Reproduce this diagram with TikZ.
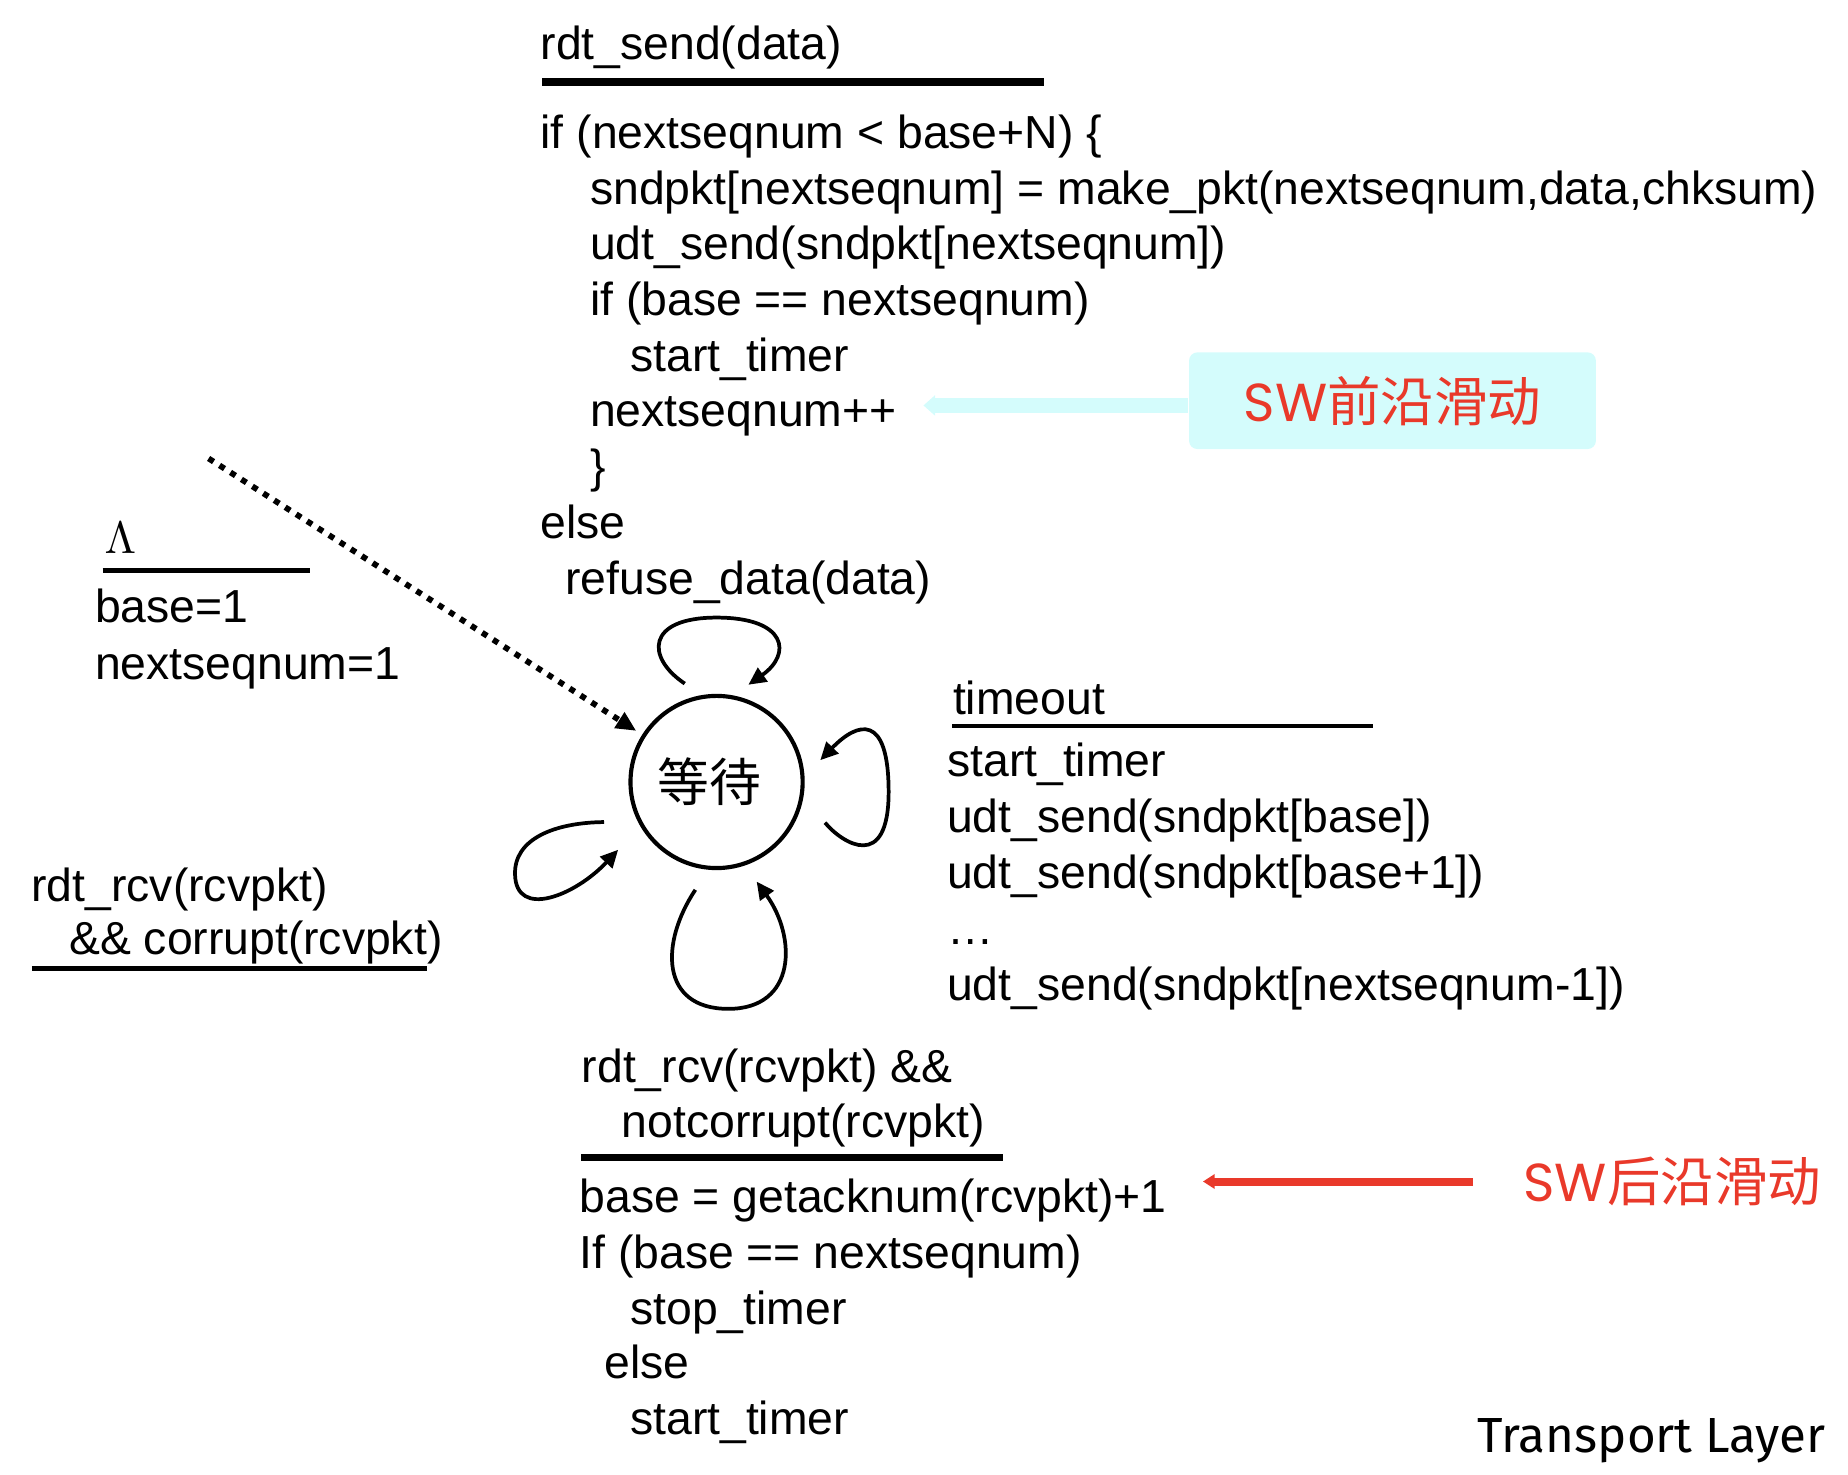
\documentclass[tikz,border=0pt]{standalone}
\usepackage{fontspec}
\setmainfont{Liberation Sans}
\newfontfamily\cjkfont{Noto Sans CJK SC}
\newfontfamily\swfont{Poppins}
\newfontfamily\footfont{Fira Sans}
\usetikzlibrary{arrows.meta,calc}

\definecolor{swred}{RGB}{233,57,42}
\definecolor{swcyan}{RGB}{212,252,252}

\begin{document}
\begin{tikzpicture}[x=0.01cm,y=-0.01cm,
  code/.style={anchor=base west, inner sep=0pt, yshift=-0.015cm,
    font=\fontsize{11.18pt}{13.4pt}\selectfont},
  thickbar/.style={line width=1.85pt},
  thinbar/.style={line width=1.2pt},
  state/.style={circle, draw, line width=1pt, minimum size=1.46cm, inner sep=0pt,
    font=\fontsize{12.5pt}{14pt}\cjkfont},
  selfloop/.style={line width=0.9pt, -{Triangle[length=0.15cm,width=0.14cm]}},
  initarrow/.style={line width=1.4pt, dash pattern=on 0.05cm off 0.06cm,
    -{Triangle[length=0.17cm,width=0.15cm]}, shorten >=0.06cm},
  swlabel/.style={inner sep=0pt, text=swred, font=\fontsize{12.9pt}{14pt}\selectfont},
  frontarrow/.style={swcyan, line width=3.6pt, -{Triangle[length=0.1cm,width=0.17cm]}},
  backarrow/.style={swred, line width=1.93pt, -{Triangle[length=0.1cm,width=0.12cm]}}]

\useasboundingbox (0,0) rectangle (1568,1251);

% ---- event/action for rdt_send ----
\node[code] (t0) at (458,49) {rdt\_send(data)};
\draw[thickbar] (460,69.5) -- (886,69.5);
\node[code] (t1) at (458,124.5) {if (nextseqnum < base+N) \{};
\node[code] (t2) at (500,171.75) {sndpkt[nextseqnum] = make\_pkt(nextseqnum,data,chksum)};
\node[code] (t3) at (500,219) {udt\_send(sndpkt[nextseqnum])};
\node[code] (t4) at (500,266.25) {if (base == nextseqnum)};
\node[code] (t5) at (534,313.5) {start\_timer};
\node[code] (t6) at (500,360.75) {nextseqnum++};
\node[code] (t7) at (500,408) {\}};
\node[code] (t8) at (458,455.25) {else};
\node[code] (t9) at (479,502.5) {refuse\_data(data)};

% ---- front edge of the sending window ----
\node[swlabel, fill=swcyan, rounded corners=2pt, minimum width=3.45cm, minimum height=0.82cm]
  (swfront) at (1181.5,340) {{\swfont SW}{\cjkfont 前沿滑动}};
\coordinate (frontsrc) at ([yshift=-0.04cm]swfront.west);
\draw[frontarrow, shorten >=0.22cm] (frontsrc) -- (t6.east |- frontsrc);

% ---- initial transition ----
\node[code] (lam) at (88,468) {$\Lambda$};
\draw[thinbar] (87,484) -- (263,484);
\node[code] (b1) at (80,527) {base=1};
\node[code] (b2) at (80,575) {nextseqnum=1};

% ---- the single state ----
\node[state] (wait) at (608,663.5) {\hspace*{-0.12cm}等待};
\coordinate (init) at (177,389);
\draw[initarrow] (init) -- (wait);

% ---- self loops ----
\begin{scope}[shift={(wait.center)}]
  % rdt_send
  \draw[selfloop] (-27,-83.5) .. controls (-60,-105.5) and (-60,-139.5) .. (0,-139.5)
    .. controls (60,-139.5) and (64,-108.5) .. (27,-82.5);
  % timeout
  \draw[selfloop] (92,34.5) .. controls (107,52.5) and (146,76.5) .. (146,8.5)
    .. controls (146,-58.5) and (120,-51.5) .. (88,-18.5);
  % rdt_rcv && notcorrupt
  \draw[selfloop] (-18,91.5) .. controls (-48,136.5) and (-48,192.5) .. (10,192.5)
    .. controls (68,192.5) and (68,131.5) .. (34,84.5);
  % rdt_rcv && corrupt
  \draw[selfloop] (-95.5,34) .. controls (-138,34.5) and (-172,48.5) .. (-171,78.5)
    .. controls (-170,116.5) and (-120,96.5) .. (-83.5,57.5);
\end{scope}

% ---- corrupt packet: no action ----
\node[code] (c1) at (26,763) {rdt\_rcv(rcvpkt)};
\node[code] (c2) at (58,808) {\&\& corrupt(rcvpkt)};
\draw[thinbar] (27,822) -- (362,822);

% ---- timeout ----
\node[code] (o0) at (808,605) {timeout};
\draw[thinbar] (808,616) -- (1165,616);
\node[code] (o1) at (803,657) {start\_timer};
\node[code] (o2) at (803,704.5) {udt\_send(sndpkt[base])};
\node[code] (o3) at (803,752) {udt\_send(sndpkt[base+1])};
\node[code] (o4) at (803,799.5) {…};
\node[code] (o5) at (803,847) {udt\_send(sndpkt[nextseqnum-1])};

% ---- ACK received ----
\node[code] (r0) at (493,917) {rdt\_rcv(rcvpkt) \&\&};
\node[code] (r1) at (527,964) {notcorrupt(rcvpkt)};
\draw[thickbar] (493,982) -- (851,982);
\node[code] (r2) at (491,1027.5) {base = getacknum(rcvpkt)+1};
\node[code] (r3) at (491,1074.5) {If (base == nextseqnum)};
\node[code] (r4) at (534,1122) {stop\_timer};
\node[code] (r5) at (512,1168.5) {else};
\node[code] (r6) at (534,1216) {start\_timer};

% ---- back edge of the sending window ----
\node[swlabel, anchor=base west] (swback) at (1292,1019.5) {{\swfont SW}{\cjkfont 后沿滑动}};
\draw[backarrow, shorten <=0.42cm, shorten >=0.3cm] (swback.west) -- (r2.east |- swback.west);

% ---- footer ----
\node[anchor=base west, inner sep=0pt, font=\fontsize{11.9pt}{14pt}\footfont] (foot)
  at (1253,1232) {Transport Layer};

\end{tikzpicture}
\end{document}
